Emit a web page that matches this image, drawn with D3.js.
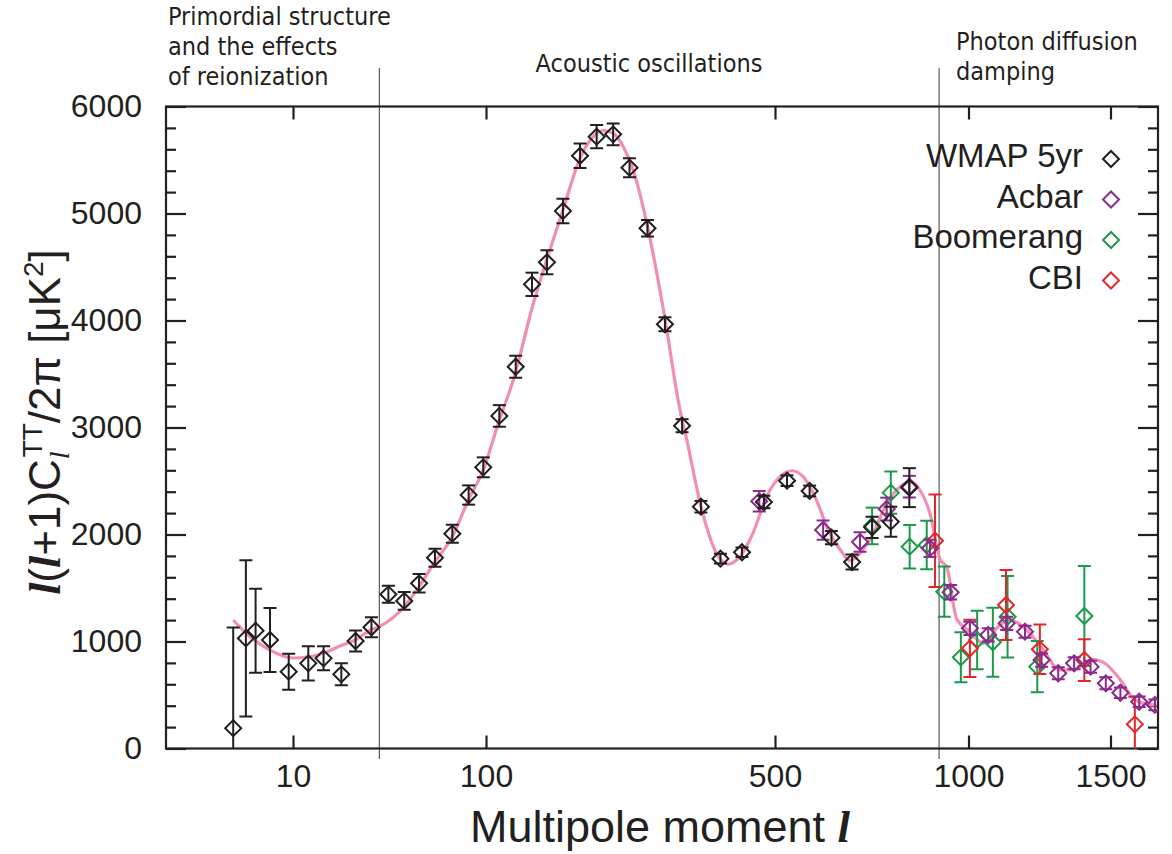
<!DOCTYPE html>
<html>
<head>
<meta charset="utf-8">
<script src="https://cdn.jsdelivr.net/npm/d3@7"></script>
<style>
  body { margin: 0; background: #fff; }
  svg { display: block; }
  .tick text { font-family: "Liberation Sans", Arial, sans-serif; font-size: 32px; fill: #231f20; }
  .note { font-family: "Liberation Sans Narrow", "DejaVu Sans Condensed", sans-serif; font-size: 25px; fill: #231f20; }
</style>
</head>
<body>
<svg id="chart" width="1172" height="854"></svg>
<script>
// multipole l of the binned points, and l(l+1)C_l/2pi values with 1-sigma errors
var wmapL   = [4.9, 5.7, 6.4, 7.6, 9.5, 12.0, 14.4, 17.8, 21.1, 25.5, 31.2, 37.7, 45.0, 54.4, 66.9, 81.3, 96.8, 107.7, 118, 129.2, 140.4, 153.5, 168.8, 185.2, 203, 222.4, 245.8, 270.9, 298, 331, 369, 416, 470, 522, 566, 612, 659, 708, 757, 809];
var wmapVal = [190, 1030, 1101, 1014, 718, 796, 843, 693, 1005, 1133, 1441, 1379, 1544, 1783, 2008, 2369, 2628, 3108, 3568, 4338, 4544, 5023, 5540, 5718, 5740, 5428, 4862, 3965, 3017, 2260, 1774, 1834, 2304, 2503, 2407, 1970, 1743, 2067, 2120, 2438];
var wmapErr = [940, 730, 393, 299, 168, 160, 112, 103, 98, 93, 80, 83, 87, 84, 84, 90, 93, 101, 103, 109, 112, 114, 114, 109, 101, 89, 78, 65, 61, 54, 45, 45, 58, 50, 50, 62, 70, 100, 140, 182];

var acbarL   = [458, 594, 678, 746, 809, 871, 938, 1004, 1058, 1115, 1175, 1232, 1292, 1352, 1417, 1480, 1543, 1628, 1703];
var acbarVal = [2310, 2042, 1930, 2238, 2447, 1871, 1460, 1123, 1061, 1170, 1092, 827, 703, 796, 765, 609, 521, 437, 407];
var acbarErr = [96, 90, 92, 106, 101, 81, 67, 62, 62, 62, 56, 62, 56, 56, 56, 56, 50, 50, 50];

var boomL   = [708, 757, 810, 861, 917, 973, 1025, 1072, 1118, 1217, 1392];
var boomVal = [2080, 2391, 1886, 1902, 1466, 852, 1014, 993, 1232, 765, 1238];
var boomErr = [171, 198, 203, 227, 234, 234, 273, 322, 381, 240, 467];

var cbiL   = [887, 1004, 1113, 1226, 1392, 1608];
var cbiVal = [1942, 936, 1341, 927, 827, 226];
var cbiErr = [432, 268, 327, 231, 195, 258];

// best fit model curve
var modelL   = [4.9, 5.7, 7.6, 10, 12, 14.5, 17.5, 21, 25.4, 28, 37.7, 45, 54.4, 66.9, 81.3, 96.8, 107.7, 116.4, 130.2, 140.2, 153.5, 168.8, 181.7, 192.2, 203, 214.8, 227, 244.9, 268.7, 294.6, 306, 329.3, 361, 385, 411, 442, 477, 509, 531, 553, 580, 605, 632, 654, 678, 711, 746, 783, 812, 840, 871, 904, 925, 958, 1004, 1043, 1094, 1126, 1181, 1238, 1298, 1348, 1428, 1480, 1543, 1601, 1663, 1712];
var modelVal = [1201, 1079, 920, 846, 855, 892, 958, 1014, 1110, 1140, 1325, 1512, 1746, 1979, 2329, 2603, 3070, 3444, 4161, 4566, 5033, 5516, 5718, 5774, 5750, 5624, 5407, 4908, 4098, 3164, 2883, 2300, 1824, 1724, 1793, 2011, 2353, 2540, 2596, 2540, 2322, 2042, 1855, 1755, 1824, 2011, 2292, 2447, 2494, 2416, 2198, 1762, 1699, 1215, 1092, 983, 1154, 1201, 1108, 921, 734, 740, 830, 790, 640, 470, 415, 405];

var xTicks = [10, 100, 500, 1000, 1500];
var yTicks = [0, 1000, 2000, 3000, 4000, 5000, 6000];
var regionBounds = [28, 900];

var series = [
  { name: "Boomerang", color: "#1b9a4b", l: boomL, v: boomVal, e: boomErr },
  { name: "CBI", color: "#e3262b", l: cbiL, v: cbiVal, e: cbiErr },
  { name: "Acbar", color: "#8a2b8c", l: acbarL, v: acbarVal, e: acbarErr },
  { name: "WMAP 5yr", color: "#231f20", l: wmapL, v: wmapVal, e: wmapErr }
];
var legendOrder = ["WMAP 5yr", "Acbar", "Boomerang", "CBI"];

var pl = 166, pr = 1158, pt = 106.5, pb = 748.5;
var svg = d3.select("#chart");

// axis is log at low l and gets stretched at high l, piecewise between the labelled ticks
var xs = d3.scaleLinear()
    .domain(xTicks.map(Math.log10))
    .range([293, 486, 775, 968.5, 1110.5]);
function x(l){ return xs(Math.log10(l)); }
var y = d3.scaleLinear().domain([0, 6000]).range([pb, pt]);

svg.append("clipPath").attr("id", "clip")
  .append("rect").attr("x", pl).attr("y", pt).attr("width", pr - pl).attr("height", pb - pt);

// region separators
svg.selectAll(".sep").data(regionBounds).enter().append("line")
    .attr("x1", function(d){ return x(d); }).attr("x2", function(d){ return x(d); })
    .attr("y1", 68).attr("y2", 759)
    .attr("stroke", "#3a3a3a").attr("stroke-width", 1);

// axes
svg.append("g").attr("transform", "translate(0," + pb + ")")
  .call(d3.axisBottom(xs).tickValues(xTicks.map(Math.log10))
    .tickFormat(function(d){ return Math.round(Math.pow(10, d)); })
    .tickSizeInner(-13).tickSizeOuter(0).tickPadding(16));
svg.append("g").attr("transform", "translate(0," + pt + ")")
  .call(d3.axisTop(xs).tickValues(xTicks.map(Math.log10)).tickFormat("")
    .tickSizeInner(-13).tickSizeOuter(0));

var minor = d3.range(0, 6001, 200).filter(function(d){ return d % 1000 !== 0; });
svg.append("g").attr("transform", "translate(" + pl + ",0)")
  .call(d3.axisLeft(y).tickValues(yTicks).tickFormat(d3.format("d"))
    .tickSizeInner(-20).tickSizeOuter(0).tickPadding(24));
svg.append("g").attr("transform", "translate(" + pl + ",0)")
  .call(d3.axisLeft(y).tickValues(minor).tickFormat("").tickSizeInner(-10).tickSizeOuter(0));
svg.append("g").attr("transform", "translate(" + pr + ",0)")
  .call(d3.axisRight(y).tickValues(yTicks).tickFormat("").tickSizeInner(-20).tickSizeOuter(0));
svg.append("g").attr("transform", "translate(" + pr + ",0)")
  .call(d3.axisRight(y).tickValues(minor).tickFormat("").tickSizeInner(-10).tickSizeOuter(0));
svg.selectAll(".domain").remove();
svg.selectAll(".tick line").attr("stroke", "#231f20").attr("stroke-width", 2.2);

svg.append("rect").attr("x", pl).attr("y", pt).attr("width", pr - pl).attr("height", pb - pt)
    .attr("fill", "none").attr("stroke", "#231f20").attr("stroke-width", 2.2);

// model curve
var plot = svg.append("g").attr("clip-path", "url(#clip)");
var line = d3.line()
    .x(function(d, i){ return x(modelL[i]); })
    .y(function(d){ return y(d); })
    .curve(d3.curveMonotoneX);
plot.append("path").datum(modelVal)
    .attr("d", line).attr("fill", "none")
    .attr("stroke", "#f28db3").attr("stroke-width", 3.2);

var diamond = d3.symbol().type(d3.symbolSquare).size(128);

series.forEach(function(s){
  var g = plot.append("g").attr("stroke", s.color).attr("stroke-width", 2).attr("fill", "none");
  var pts = s.l.map(function(l, i){ return { l: l, v: s.v[i], e: s.e[i] }; });
  var bar = g.selectAll(".bar").data(pts).enter().append("g");
  bar.append("line")
      .attr("x1", function(d){ return x(d.l); }).attr("x2", function(d){ return x(d.l); })
      .attr("y1", function(d){ return y(d.v - d.e); }).attr("y2", function(d){ return y(d.v + d.e); });
  bar.append("line")
      .attr("x1", function(d){ return x(d.l) - 6.5; }).attr("x2", function(d){ return x(d.l) + 6.5; })
      .attr("y1", function(d){ return y(d.v + d.e); }).attr("y2", function(d){ return y(d.v + d.e); });
  bar.append("line")
      .attr("x1", function(d){ return x(d.l) - 6.5; }).attr("x2", function(d){ return x(d.l) + 6.5; })
      .attr("y1", function(d){ return y(d.v - d.e); }).attr("y2", function(d){ return y(d.v - d.e); });
  bar.append("path").attr("d", diamond)
      .attr("transform", function(d){ return "translate(" + x(d.l) + "," + y(d.v) + ") rotate(45)"; });
});

// legend
var leg = svg.append("g");
legendOrder.forEach(function(name, i){
  var s = series.filter(function(t){ return t.name === name; })[0];
  var by = 167 + i * 40.5;
  leg.append("text").attr("x", 1083).attr("y", by).attr("text-anchor", "end")
      .style("font-family", "Liberation Sans, Arial, sans-serif").style("font-size", "33px")
      .attr("fill", "#231f20").text(name);
  leg.append("path").attr("d", diamond)
      .attr("transform", "translate(1111," + (by - 8) + ") rotate(45)")
      .attr("fill", "none").attr("stroke", s.color).attr("stroke-width", 2);
});

// region labels
function note(lines, x0, y0, anchor){
  var t = svg.append("text").attr("class", "note").attr("text-anchor", anchor);
  lines.forEach(function(s, i){
    t.append("tspan").attr("x", x0).attr("y", y0 + i * 30).text(s);
  });
}
note(["Primordial structure", "and the effects", "of reionization"], 168, 25, "start");
note(["Acoustic oscillations"], 649, 72, "middle");
note(["Photon diffusion", "damping"], 956, 50, "start");

// axis titles
var serif = "Liberation Serif, Times New Roman, serif";
var sans = "Liberation Sans, Arial, sans-serif";
var xt = svg.append("text").attr("x", 660).attr("y", 842).attr("text-anchor", "middle")
    .style("font-family", sans).style("font-size", "45px").attr("fill", "#231f20");
xt.append("tspan").text("Multipole moment  ");
xt.append("tspan").style("font-family", serif).style("font-style", "italic").style("font-weight", "bold").text("l");

var yt = svg.append("text").attr("transform", "translate(60,422) rotate(-90)").attr("text-anchor", "middle")
    .style("font-family", sans).style("font-size", "44px").attr("fill", "#231f20");
yt.append("tspan").style("font-family", serif).style("font-style", "italic").style("font-weight", "bold").text("l");
yt.append("tspan").text("(");
yt.append("tspan").style("font-family", serif).style("font-style", "italic").style("font-weight", "bold").text("l");
yt.append("tspan").text("+1)C");
yt.append("tspan").attr("dy", 9).style("font-family", serif).style("font-style", "italic").style("font-size", "28px").text("l");
yt.append("tspan").attr("dy", -27).attr("dx", -6).style("font-size", "28px").text("TT");
yt.append("tspan").attr("dy", 18).text("/2\u03c0 [\u03bcK");
yt.append("tspan").attr("dy", -17).style("font-size", "28px").text("2");
yt.append("tspan").attr("dy", 17).text("]");
</script>
</body>
</html>
